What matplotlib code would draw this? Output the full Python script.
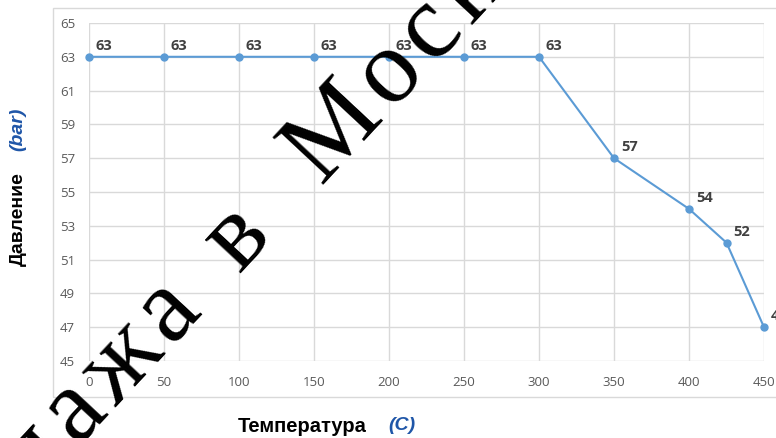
import matplotlib
matplotlib.use("Agg")
import matplotlib.pyplot as plt
from matplotlib.patches import Rectangle

temps = [0, 50, 100, 150, 200, 250, 300, 350, 400, 425, 450]
pressure = [63, 63, 63, 63, 63, 63, 63, 57, 54, 52, 47]
x_ticks = [0, 50, 100, 150, 200, 250, 300, 350, 400, 450]
y_ticks = [45, 47, 49, 51, 53, 55, 57, 59, 61, 63, 65]
xlabel_main = "Температура"
xlabel_unit = "(C)"
ylabel_main = "Давление"
ylabel_unit = "(bar)"
watermark = "Продажа в Москве"

W, H = 776, 438
fig = plt.figure(figsize=(W / 100, H / 100), dpi=100)
plt.rcParams['font.family'] = ['Open Sans', 'DejaVu Sans']

# outer chart border
fig.patches.append(Rectangle((53 / W, 1 - 397 / H), (W + 10 - 53) / W, (397 - 8) / H,
                             transform=fig.transFigure, fill=False,
                             edgecolor="#d9d9d9", linewidth=1.0))

ax = fig.add_axes([89 / W, 1 - 361 / H, (764 - 89) / W, (361 - 23) / H])
ax.set_xlim(0, 450)
ax.set_ylim(45, 65)
ax.set_xticks(x_ticks)
ax.set_yticks(y_ticks)
ax.grid(True, color="#d9d9d9", linewidth=1.0)
ax.set_axisbelow(True)
for s in ax.spines.values():
    s.set_visible(False)
ax.tick_params(length=0, labelsize=9.5, labelcolor="#595959")
ax.tick_params(axis="x", pad=11)
ax.tick_params(axis="y", pad=10)

ax.plot(temps, pressure, color="#5b9bd5", linewidth=1.5, marker="o",
        markersize=5, clip_on=False, zorder=3)
for x, y in zip(temps, pressure):
    ax.annotate(str(y), (x, y), xytext=(5, 3), textcoords="offset points",
                ha="left", va="bottom", fontsize=10.5, fontweight="bold",
                color="#404040", annotation_clip=False)

# axis titles
fig.text(238 / W, 1 - 426 / H, xlabel_main, fontsize=14.5, fontweight="bold",
         color="black", ha="left", va="center", family=["Liberation Sans"])
fig.text(388 / W, 1 - 426 / H, xlabel_unit, fontsize=14, fontweight="bold",
         style="italic", color="#1f56a8", ha="left", va="center",
         family=["Liberation Sans"])
fig.text(18 / W, 1 - 266 / H, ylabel_main, fontsize=14, fontweight="bold",
         color="black", ha="center", va="bottom", rotation=90,
         family=["Liberation Sans"])
fig.text(18 / W, 1 - 151 / H, ylabel_unit, fontsize=14, fontweight="bold",
         style="italic", color="#1f56a8", ha="center", va="bottom", rotation=90,
         family=["Liberation Sans"])

# watermark (slightly letter-spaced, wider gap before the last word)
wm_display = "\u200a".join(watermark)
wm_display = wm_display.replace("в\u200a \u200aМ", "в\u200a\u2002\u200aМ")
wm_display = wm_display.replace(" ", " \u200a")
fig.text(239 / W, 1 - 275 / H, wm_display, fontsize=76,
         color="black", family=["Liberation Serif", "DejaVu Serif"],
         rotation=47, ha="center", va="baseline", rotation_mode="anchor",
         zorder=10)

fig.savefig("out.png", dpi=100)
